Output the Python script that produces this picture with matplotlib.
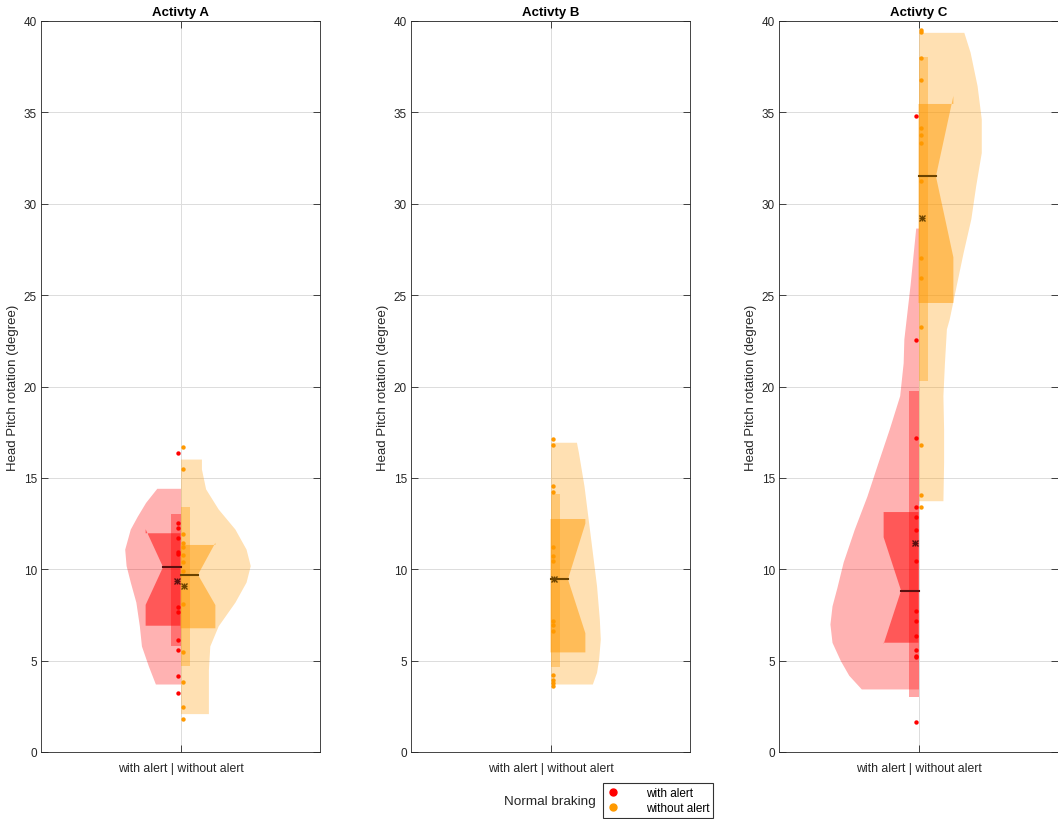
import numpy as np
import matplotlib
matplotlib.use('Agg')
import matplotlib.pyplot as plt
from matplotlib.lines import Line2D

plt.rcParams['font.family'] = ['Liberation Sans', 'DejaVu Sans']

titles = ['Activty A', 'Activty B', 'Activty C']
groups = ['with alert', 'without alert']
xtick_label = 'with alert | without alert'
ylabel = 'Head Pitch rotation (degree)'
legend_title = 'Normal braking'

# raw points (degree)
pts_with = [
    [16.36, 12.53, 12.24, 11.73, 10.96, 10.85, 7.93, 7.66, 6.13, 5.58, 4.16, 3.21],
    [],
    [34.82, 22.54, 17.16, 13.42, 12.86, 12.13, 10.45, 7.72, 7.17, 6.37, 5.6, 5.27, 5.22, 1.62],
]
pts_without = [
    [16.71, 15.47, 11.93, 11.44, 11.22, 10.78, 10.38, 9.92, 8.08, 5.47, 3.81, 2.48, 1.81],
    [17.11, 16.82, 14.56, 14.23, 11.24, 10.73, 10.47, 7.15, 6.95, 6.64, 4.21, 3.94, 3.78, 3.61],
    [39.53, 39.4, 38.0, 36.79, 34.15, 33.78, 33.34, 31.23, 27.03, 25.92, 23.26, 16.82, 14.06, 13.42],
]

# violin outlines: level (degree) and half width
vio_with_y = [
    [14.43, 13.66, 12.9, 12.2, 11.1, 10.2, 9.3, 8.2, 6.9, 5.8, 4.7, 3.72],
    [],
    [28.67, 25.6, 22.6, 21.3, 19.5, 17.67, 15.85, 14.0, 12.2, 10.4, 9.0, 8.0, 7.0, 6.0, 5.0, 4.2, 3.45],
]
vio_with_w = [
    [0.17, 0.25, 0.31, 0.36, 0.40, 0.39, 0.36, 0.32, 0.295, 0.28, 0.23, 0.18],
    [],
    [0.02, 0.06, 0.105, 0.11, 0.135, 0.21, 0.29, 0.37, 0.46, 0.54, 0.585, 0.62, 0.635, 0.62, 0.56, 0.50, 0.41],
]
vio_without_y = [
    [16.03, 15.49, 14.4, 13.3, 12.2, 11.1, 10.2, 9.3, 8.2, 6.9, 5.8, 4.5, 3.1, 2.1],
    [16.95, 16.4, 14.57, 12.75, 10.93, 9.1, 7.28, 6.18, 5.09, 4.36, 3.72],
    [39.38, 38.29, 36.46, 34.64, 32.8, 30.99, 29.17, 27.34, 25.52, 23.69, 23.15, 21.3, 19.5, 17.67, 15.85, 13.75],
]
vio_without_w = [
    [0.15, 0.15, 0.18, 0.27, 0.39, 0.47, 0.50, 0.47, 0.39, 0.27, 0.21, 0.20, 0.20, 0.20],
    [0.186, 0.20, 0.24, 0.27, 0.30, 0.33, 0.35, 0.357, 0.345, 0.33, 0.30],
    [0.325, 0.37, 0.42, 0.45, 0.45, 0.41, 0.375, 0.32, 0.27, 0.22, 0.20, 0.186, 0.175, 0.18, 0.18, 0.175],
]

# box statistics (None = no data)
q1_with = [6.91, None, 5.98]
q3_with = [11.97, None, 13.13]
med_with = [10.12, None, 8.83]
nlo_with = [8.05, None, 5.91]
nhi_with = [12.19, None, 11.75]
lo_with = [5.82, None, 3.03]
hi_with = [13.02, None, 19.75]
mean_with = [9.37, None, 11.42]

q1_without = [6.77, 5.45, 24.57]
q3_without = [11.33, 12.75, 35.46]
med_without = [9.70, 9.45, 31.5]
nlo_without = [8.04, 6.5, 27.07]
nhi_without = [11.45, 12.5, 35.9]
lo_without = [4.72, 4.67, 20.32]
hi_without = [13.42, 14.12, 38.05]
mean_without = [9.10, 9.45, 29.2]

col_with = '#ff0000'
col_without = '#ff9900'
axcol = '#262626'

W, H = 1058, 820
fig = plt.figure(figsize=(W / 100, H / 100), dpi=100)
lefts = [41, 411, 779]


def half(ax, side, col, dark, vy, vw, pts, q1, q3, med, nlo, nhi, lo, hi, mean):
    s = side
    if len(vy):
        ax.fill_betweenx(vy, 0, s * np.array(vw), color=col, alpha=0.3, lw=0, zorder=2)
    if q1 is None:
        return
    nw = 0.065
    ax.fill([0, s * nw, s * nw, 0], [lo, lo, hi, hi], color=col, alpha=0.35, lw=0, zorder=3)
    bw = 0.25
    px = [0, s * bw, s * bw, s * bw / 2, s * bw, s * bw, 0]
    py = [q1, q1, nlo, med, nhi, q3, q3]
    ax.fill(px, py, color=col, alpha=0.5, lw=0, zorder=4)
    ax.scatter(np.full(len(pts), s * 0.015), pts, s=10, color=col, lw=0, zorder=5)
    ax.plot([0, s * bw / 2], [med, med], color=dark, lw=1.5, zorder=6)
    for m in ['+', 'x']:
        ax.plot([s * 0.022], [mean], marker=m, ms=5, mew=1.0, color=dark, zorder=7)


for i in range(3):
    ax = fig.add_axes([lefts[i] / W, (H - 753) / H, 279 / W, 731 / H])
    half(ax, -1, col_with, '#5a1010', vio_with_y[i], vio_with_w[i], pts_with[i],
         q1_with[i], q3_with[i], med_with[i], nlo_with[i], nhi_with[i],
         lo_with[i], hi_with[i], mean_with[i])
    half(ax, 1, col_without, '#6b4300', vio_without_y[i], vio_without_w[i], pts_without[i],
         q1_without[i], q3_without[i], med_without[i], nlo_without[i], nhi_without[i],
         lo_without[i], hi_without[i], mean_without[i])
    ax.set_xlim(-1, 1)
    ax.set_ylim(0, 40)
    ax.set_yticks(np.arange(0, 41, 5))
    ax.set_xticks([0])
    ax.set_xticklabels([xtick_label])
    ax.set_axisbelow(True)
    ax.grid(True, color='#dcdcdc', lw=0.7)
    ax.tick_params(direction='in', length=5, width=0.6, colors=axcol, labelsize=8.5,
                   top=True, right=True, pad=3)
    ax.tick_params(axis='x', pad=7, labelsize=8.8)
    for sp in ax.spines.values():
        sp.set_color(axcol)
        sp.set_linewidth(0.6)
    ax.set_ylabel(ylabel, fontsize=9.5, color=axcol, labelpad=3)
    ax.set_title(titles[i], fontsize=9.5, fontweight='bold', color='k', pad=4)

handles = [Line2D([], [], ls='', marker='o', ms=5, color=col_with, label=groups[0]),
           Line2D([], [], ls='', marker='o', ms=5, color=col_without, label=groups[1])]
leg = fig.legend(handles=handles, loc='center', bbox_to_anchor=(658 / W, (H - 801.5) / H),
                 fontsize=8.5, frameon=True, fancybox=False, edgecolor='k',
                 handletextpad=2.3, borderpad=0.3, borderaxespad=0, labelspacing=0.3,
                 handlelength=1.1)
leg.get_frame().set_linewidth(0.8)
fig.text(550 / W, (H - 802) / H, legend_title, fontsize=9.7, color=axcol, ha='center', va='center')

fig.savefig('out.png', dpi=100)
